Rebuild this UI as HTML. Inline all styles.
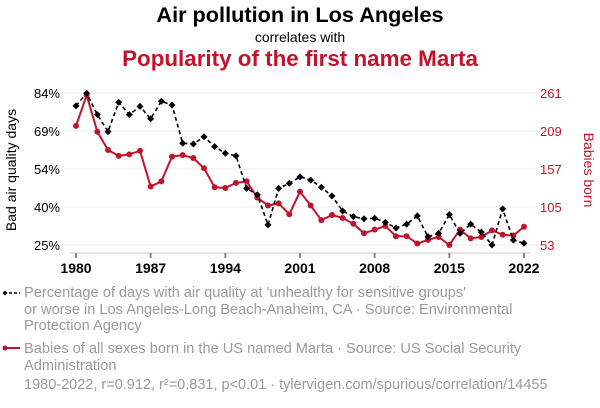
<!DOCTYPE html>
<html><head><meta charset="utf-8">
<style>
body{margin:0;background:#fff;font-family:"Liberation Sans",sans-serif;}
#wrap{position:relative;width:600px;height:408px;overflow:hidden;}
.t{position:absolute;left:0;width:600px;text-align:center;}
.leg{position:absolute;left:24px;color:#9a9a9a;font-size:14.6px;line-height:16.5px;white-space:nowrap;}
</style></head><body>
<div id="wrap">
<div class="t" style="top:2px;font-size:21.7px;font-weight:bold;color:#000">Air pollution in Los Angeles</div>
<div class="t" style="top:29px;font-size:14px;color:#000">correlates with</div>
<div class="t" style="top:46px;font-size:22.4px;font-weight:bold;color:#c0142e">Popularity of the first name Marta</div>
<svg id="chart" width="600" height="408" style="position:absolute;left:0;top:0"></svg>
<div class="leg" style="top:285px">Percentage of days with air quality at 'unhealthy for sensitive groups'<br>or worse in Los Angeles-Long Beach-Anaheim, CA · Source: Environmental<br>Protection Agency</div>
<div class="leg" style="top:341px">Babies of all sexes born in the US named Marta · Source: US Social Security<br>Administration</div>
<div class="leg" style="top:377px;font-size:14.5px">1980-2022, r=0.912, r²=0.831, p&lt;0.01 · tylervigen.com/spurious/correlation/14455</div>
</div>
<script>
const years=[1980,1981,1982,1983,1984,1985,1986,1987,1988,1989,1990,1991,1992,1993,1994,1995,1996,1997,1998,1999,2000,2001,2002,2003,2004,2005,2006,2007,2008,2009,2010,2011,2012,2013,2014,2015,2016,2017,2018,2019,2020,2021,2022];
const airPct=[79.0,83.9,75.6,69.0,80.4,75.6,78.8,74.0,80.8,79.3,64.5,64.2,67.0,63.2,60.6,59.6,47.0,44.5,32.8,47.0,48.9,51.5,50.2,47.4,44.0,38.2,36.0,35.2,35.4,33.8,31.6,33.1,36.3,28.2,29.5,36.8,29.5,33.1,30.0,25.0,39.0,26.9,25.7];
const marta=[216,258,208,183,175,177,182,133,140,174,176,172,158,132,131,138,140,118,107,110,95,126,107,87,94,90,82,69,74,79,65,65,55,60,64,53,74,62,64,73,67,66,78];
const xTicks=[1980,1987,1994,2001,2008,2015,2022];
const leftTicks=[25,40,54,69,84];
const rightTicks=[53,105,157,209,261];
const NS="http://www.w3.org/2000/svg";
const svg=document.getElementById('chart');
const X0=76,X1=524,YT=93,YB=245;
const xS=v=>X0+(v-1980)/(2022-1980)*(X1-X0);
const yL=v=>YB-(v-25)/(84-25)*(YB-YT);
const yR=v=>YB-(v-53)/(261-53)*(YB-YT);
function mk(tag,attrs){const e=document.createElementNS(NS,tag);for(const k in attrs)e.setAttribute(k,attrs[k]);svg.appendChild(e);return e;}
rightTicks.forEach((t,i)=>{
 const g=mk('line',{x1:62,x2:538,y1:yR(t),y2:yR(t),stroke:'#ececec','stroke-width':1});
 
 
 const lt=mk('text',{x:60,y:yR(t)+5,'text-anchor':'end','font-size':13,fill:'#000'});lt.textContent=leftTicks[i]+'%';
 
 
 const rt=mk('text',{x:540,y:yR(t)+5,'font-size':13,fill:'#c0142e'});rt.textContent=t;
 
 
});
const ax=mk('line',{x1:70,x2:530,y1:253,y2:253,stroke:'#ccc','stroke-width':1});


xTicks.forEach(t=>{
 const tk=mk('line',{x1:xS(t),x2:xS(t),y1:253,y2:258,stroke:'#888','stroke-width':2});
 
 
 const tl=mk('text',{x:xS(t),y:273,'text-anchor':'middle','font-size':14,'font-weight':'bold',fill:'#000'});tl.textContent=t;
 
 
});
const yl=mk('text',{x:0,y:0,transform:'translate(16,170) rotate(-90)','text-anchor':'middle','font-size':14,fill:'#000'});yl.textContent='Bad air quality days';


const yr=mk('text',{x:0,y:0,transform:'translate(584,170) rotate(90)','text-anchor':'middle','font-size':14,fill:'#c0142e'});yr.textContent='Babies born';


const rl=mk('polyline',{points:years.map((y,i)=>xS(y)+','+yR(marta[i])).join(' '),fill:'none',stroke:'#c0142e','stroke-width':2});


years.forEach((y,i)=>{const c=mk('circle',{cx:xS(y),cy:yR(marta[i]),r:3,fill:'#c0142e'});
 
 });
const bl=mk('polyline',{points:years.map((y,i)=>xS(y)+','+yL(airPct[i])).join(' '),fill:'none',stroke:'#000','stroke-width':1.6,'stroke-dasharray':'4,3'});


years.forEach((y,i)=>{const cx=xS(y),cy=yL(airPct[i]);const d=mk('polygon',{points:`${cx},${cy-3.5} ${cx+3.5},${cy} ${cx},${cy+3.5} ${cx-3.5},${cy}`,fill:'#000'});
 
 });
const lm1=mk('line',{x1:4,x2:20,y1:293,y2:293,stroke:'#000','stroke-width':1.5,'stroke-dasharray':'3,2'});


const lm1d=mk('polygon',{points:'5,290.5 7.5,293 5,295.5 2.5,293',fill:'#000'});


const lm2=mk('line',{x1:4,x2:20,y1:348,y2:348,stroke:'#c0142e','stroke-width':2});


const lm2d=mk('circle',{cx:5,cy:348,r:2.5,fill:'#c0142e'});


</script>
</body></html>
